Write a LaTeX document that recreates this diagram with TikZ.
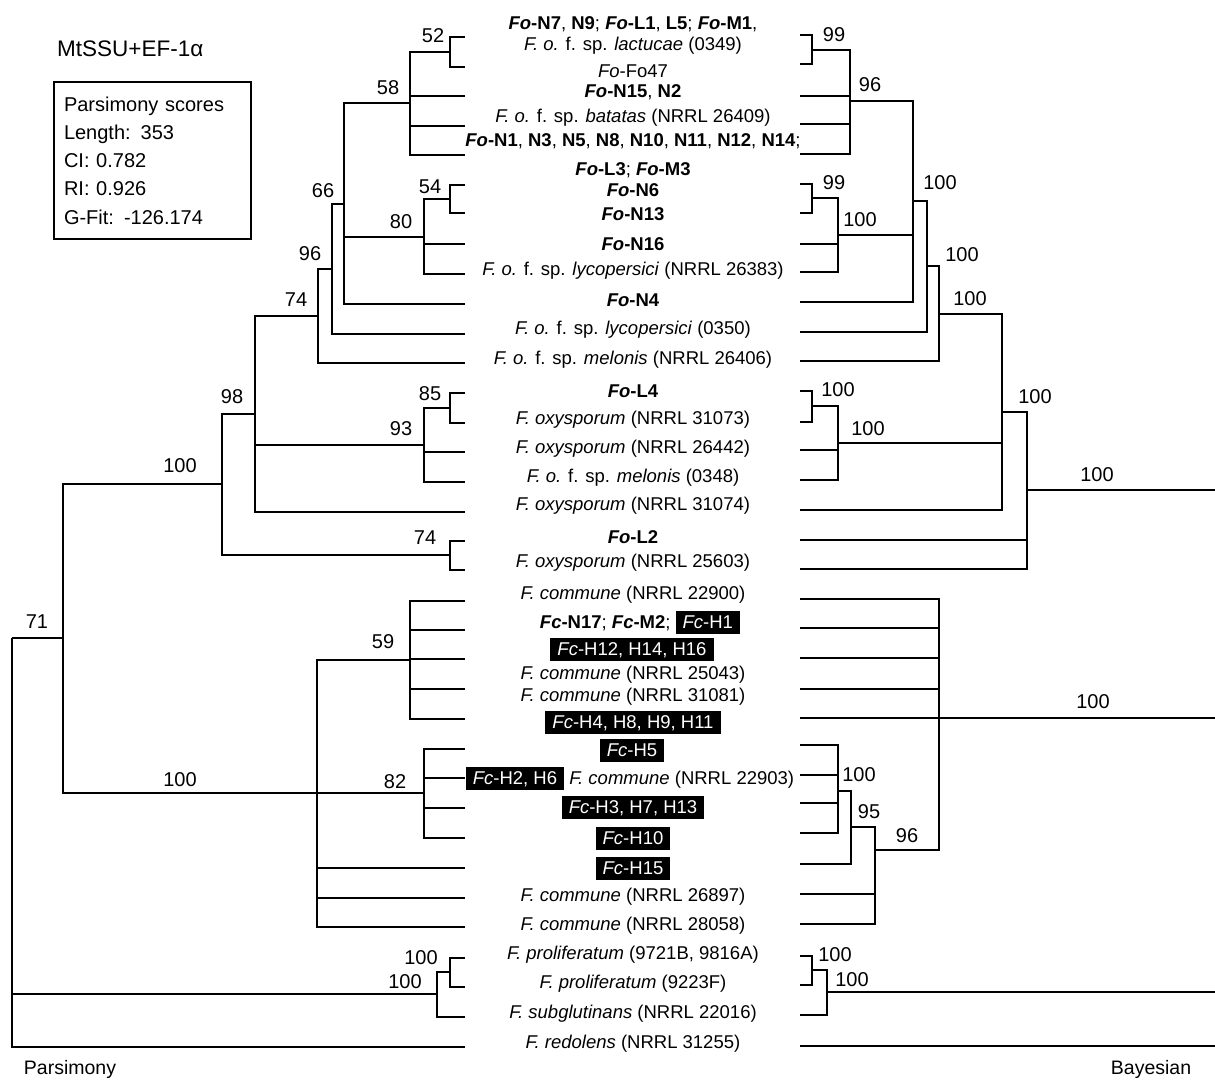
\documentclass[tikz,border=0pt]{standalone}
\usepackage{fontspec}
\setmainfont{Liberation Sans}
\setlength{\fboxsep}{0pt}
\newcommand{\Fo}{\textbf{\textit{Fo}}}
\newcommand{\Fc}{\textbf{\textit{Fc}}}
\newcommand{\B}[1]{\textbf{#1}}
\newcommand{\blk}[1]{\colorbox{black}{\rule[-5pt]{0pt}{23pt}\hspace{7pt}\textcolor{white}{#1}\hspace{7pt}}}
\begin{document}
\begin{tikzpicture}[x=1pt,y=-1pt,
  br/.style={line width=2.2pt},
  tx/.style={font=\fontsize{18.5}{22}\selectfont, inner sep=0pt, anchor=center},
  sv/.style={font=\fontsize{20}{24}\selectfont, inner sep=0pt, anchor=center}]
\useasboundingbox (0,0) rectangle (1215,1080);
% tips
\foreach \i/\y in {1/37,2/67,3/96,4/126,5/155,6/185,7/213,8/244,9/274,10/304,11/334,12/363,13/393,14/423,15/452,16/482,17/512,18/541,19/570,20/601,21/630,22/659,23/689,24/719,25/749,26/778,27/808,28/838,29/868,30/898,31/927,32/958,33/987,34/1017,35/1047}
  \coordinate (L\i) at (465,\y);
\foreach \i/\y in {1/35,2/64,3/96,4/124,5/154,6/184,7/213,8/244,9/272,10/302,11/332,12/361,13/391,14/422,15/450,16/480,17/510,18/540,19/569,20/599,21/628,22/658,23/689,24/718,25/745,26/775,27/803,28/833,29/864,30/894,31/924,32/956,33/985,34/1015,35/1046}
  \coordinate (R\i) at (800,\y);
% left internal nodes
\coordinate (n52) at (450,52);
\coordinate (n58) at (410,103);
\coordinate (n54) at (450,199);
\coordinate (n80) at (424,237);
\coordinate (n66) at (344,204);
\coordinate (n96) at (332,269);
\coordinate (n74) at (318,316);
\coordinate (n85) at (450,408);
\coordinate (n93) at (424,445);
\coordinate (n98) at (255,414);
\coordinate (n74b) at (450,555);
\coordinate (n100) at (222,484);
\coordinate (n59) at (410,660);
\coordinate (n82) at (424,793);
\coordinate (nC) at (317,793);
\coordinate (n71) at (63,638);
\coordinate (nPi) at (450,972);
\coordinate (nP) at (437,994);
\coordinate (root) at (12,638);
\foreach \p/\c in {n52/L1,n52/L2,n58/n52,n58/L3,n58/L4,n58/L5,n54/L6,n54/L7,n80/n54,n80/L8,n80/L9,
  n66/n58,n66/n80,n66/L10,n96/n66,n96/L11,n74/n96,n74/L12,n85/L13,n85/L14,n93/n85,n93/L15,n93/L16,
  n98/n74,n98/n93,n98/L17,n74b/L18,n74b/L19,n100/n98,n100/n74b,
  n59/L20,n59/L21,n59/L22,n59/L23,n59/L24,n82/L25,n82/L26,n82/L27,n82/L28,
  nC/n59,nC/n82,nC/L29,nC/L30,nC/L31,n71/n100,n71/nC,nPi/L32,nPi/L33,nP/nPi,nP/L34,
  root/n71,root/nP,root/L35}
  \draw[br] (\p) |- (\c);
% right internal nodes
\coordinate (R99a) at (812,50);
\coordinate (R96) at (850,101);
\coordinate (R99b) at (812,198);
\coordinate (R100a) at (838,235);
\coordinate (RA) at (913,201);
\coordinate (RB) at (927,266);
\coordinate (RC) at (939,314);
\coordinate (RL4i) at (812,406);
\coordinate (RL4) at (838,443);
\coordinate (RD) at (1002,412);
\coordinate (RE) at (1027,490);
\coordinate (RF) at (939,718);
\coordinate (RH) at (838,791);
\coordinate (R95) at (851,827);
\coordinate (RG) at (875,850);
\coordinate (RPi) at (812,970);
\coordinate (RP) at (827,992);
\coordinate (REe) at (1215,490);
\coordinate (RFe) at (1215,718);
\coordinate (RPe) at (1215,992);
\coordinate (R35e) at (1215,1046);
\foreach \p/\c in {R99a/R1,R99a/R2,R96/R99a,R96/R3,R96/R4,R96/R5,R99b/R6,R99b/R7,R100a/R99b,R100a/R8,R100a/R9,
  RA/R96,RA/R100a,RA/R10,RB/RA,RB/R11,RC/RB,RC/R12,RL4i/R13,RL4i/R14,RL4/RL4i,RL4/R15,RL4/R16,
  RD/RC,RD/RL4,RD/R17,RE/RD,RE/R18,RE/R19,
  RF/R20,RF/R21,RF/R22,RF/R23,RF/R24,RF/RG,RH/R25,RH/R26,RH/R27,RH/R28,R95/RH,R95/R29,RG/R95,RG/R30,RG/R31,
  RPi/R32,RPi/R33,RP/RPi,RP/R34}
  \draw[br] (\p) |- (\c);
\draw[br] (RE) -- (REe);
\draw[br] (RF) -- (RFe);
\draw[br] (RP) -- (RPe);
\draw[br] (R35) -- (R35e);
% left support values
\node[sv] (s52) at (433,36) {52};
\node[sv] (s58) at (388,88) {58};
\node[sv] (s66) at (323,191) {66};
\node[sv] (s96) at (310,254) {96};
\node[sv] (s80) at (401,222) {80};
\node[sv] (s54) at (430,187) {54};
\node[sv] (s74) at (296,300) {74};
\node[sv] (s98) at (232,397) {98};
\node[sv] (s100) at (180,466) {100};
\node[sv] (s85) at (430,394) {85};
\node[sv] (s93) at (401,429) {93};
\node[sv] (s74b) at (425,538) {74};
\node[sv] (s71) at (37,622) {71};
\node[sv] (s59) at (383,642) {59};
\node[sv] (s82) at (395,782) {82};
\node[sv] (s100c) at (180,780) {100};
\node[sv] (s100pi) at (421,958) {100};
\node[sv] (s100p) at (405,982) {100};
% right support values
\node[sv] (b99a) at (834,35) {99};
\node[sv] (b96) at (870,85) {96};
\node[sv] (b99b) at (834,183) {99};
\node[sv] (b100a) at (860,220) {100};
\node[sv] (bA) at (940,183) {100};
\node[sv] (bB) at (962,255) {100};
\node[sv] (bC) at (970,299) {100};
\node[sv] (bD) at (1035,397) {100};
\node[sv] (bE) at (1097,475) {100};
\node[sv] (bL4i) at (838,390) {100};
\node[sv] (bL4) at (868,429) {100};
\node[sv] (bF) at (1093,702) {100};
\node[sv] (bH) at (859,775) {100};
\node[sv] (b95) at (869,812) {95};
\node[sv] (bG) at (907,836) {96};
\node[sv] (bPi) at (835,955) {100};
\node[sv] (bP) at (852,980) {100};
% taxa
\node[tx] (t1a) at (633,24) {\Fo\B{-N7}, \B{N9}; \Fo\B{-L1}, \B{L5}; \Fo\B{-M1},};
\node[tx] (t1b) at (633,46) {\textit{F. o.} f. sp. \textit{lactucae} (0349)};
\node[tx] (t2) at (633,71) {\textit{Fo}-Fo47};
\node[tx] (t3) at (633,92) {\Fo\B{-N15}, \B{N2}};
\node[tx] (t4) at (633,118) {\textit{F. o.} f. sp. \textit{batatas} (NRRL 26409)};
\node[tx] (t5a) at (633,141) {\Fo\B{-N1}, \B{N3}, \B{N5}, \B{N8}, \B{N10}, \B{N11}, \B{N12}, \B{N14};};
\node[tx] (t5b) at (633,170) {\Fo\B{-L3}; \Fo\B{-M3}};
\node[tx] (t6) at (633,190) {\Fo\B{-N6}};
\node[tx] (t7) at (633,214) {\Fo\B{-N13}};
\node[tx] (t8) at (633,244) {\Fo\B{-N16}};
\node[tx] (t9) at (633,271) {\textit{F. o.} f. sp. \textit{lycopersici} (NRRL 26383)};
\node[tx] (t10) at (633,300) {\Fo\B{-N4}};
\node[tx] (t11) at (633,330) {\textit{F. o.} f. sp. \textit{lycopersici} (0350)};
\node[tx] (t12) at (633,360) {\textit{F. o.} f. sp. \textit{melonis} (NRRL 26406)};
\node[tx] (t13) at (633,391) {\Fo\B{-L4}};
\node[tx] (t14) at (633,420) {\textit{F. oxysporum} (NRRL 31073)};
\node[tx] (t15) at (633,449) {\textit{F. oxysporum} (NRRL 26442)};
\node[tx] (t16) at (633,478) {\textit{F. o.} f. sp. \textit{melonis} (0348)};
\node[tx] (t17) at (633,506) {\textit{F. oxysporum} (NRRL 31074)};
\node[tx] (t18) at (633,537) {\Fo\B{-L2}};
\node[tx] (t19) at (633,563) {\textit{F. oxysporum} (NRRL 25603)};
\node[tx] (t20) at (633,595) {\textit{F. commune} (NRRL 22900)};
\node[tx] (t21) at (640,622) {\Fc\B{-N17}; \Fc\B{-M2}; \blk{\textit{Fc}-H1}};
\node[tx] (t22) at (632,649) {\blk{\textit{Fc}-H12, H14, H16}};
\node[tx] (t23) at (633,675) {\textit{F. commune} (NRRL 25043)};
\node[tx] (t24) at (633,697) {\textit{F. commune} (NRRL 31081)};
\node[tx] (t25) at (633,722) {\blk{\textit{Fc}-H4, H8, H9, H11}};
\node[tx] (t26) at (632,750) {\blk{\textit{Fc}-H5}};
\node[tx] (t27) at (630,778) {\blk{\textit{Fc}-H2, H6} \textit{F. commune} (NRRL 22903)};
\node[tx] (t28) at (633,807) {\blk{\textit{Fc}-H3, H7, H13}};
\node[tx] (t29) at (633,838) {\blk{\textit{Fc}-H10}};
\node[tx] (t30) at (633,868) {\blk{\textit{Fc}-H15}};
\node[tx] (t31) at (633,897) {\textit{F. commune} (NRRL 26897)};
\node[tx] (t32) at (633,926) {\textit{F. commune} (NRRL 28058)};
\node[tx] (t33) at (633,955) {\textit{F. proliferatum} (9721B, 9816A)};
\node[tx] (t34) at (633,984) {\textit{F. proliferatum} (9223F)};
\node[tx] (t35) at (633,1014) {\textit{F. subglutinans} (NRRL 22016)};
\node[tx] (t36) at (633,1044) {\textit{F. redolens} (NRRL 31255)};
% title, scores box, footers
\node[anchor=west, inner sep=0pt, font=\fontsize{22.5}{26}\selectfont] (title) at (57,49) {MtSSU+EF-1α};
\node[draw, line width=2pt, anchor=north west, minimum width=197pt, minimum height=157pt,
  text width=177pt, align=left, inner xsep=10pt, font=\fontsize{20}{28.3}\selectfont] (scores) at (53,81)
  {Parsimony scores\\Length: 353\\CI: 0.782\\RI: 0.926\\G-Fit: -126.174};
\node[tx, font=\fontsize{19.5}{22}\selectfont] (parsi) at (70,1069) {Parsimony};
\node[tx, font=\fontsize{19.5}{22}\selectfont] (bayes) at (1151,1069) {Bayesian};
\end{tikzpicture}
\end{document}
